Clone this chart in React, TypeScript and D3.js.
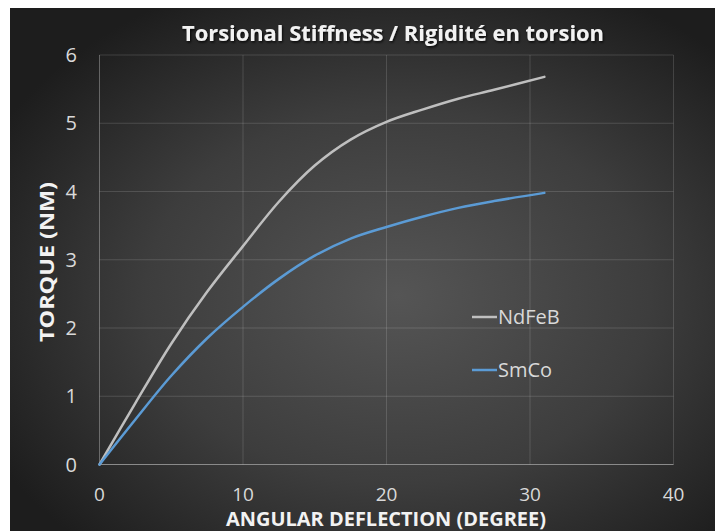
import React from "react"
import * as d3 from "d3"

const angles = [0, 2.5, 5, 7.5, 10, 12.5, 15, 17.5, 20, 22.5, 25, 27.5, 31]
const ndfebTorque = [0, 0.9, 1.77, 2.53, 3.2, 3.85, 4.38, 4.76, 5.02, 5.2, 5.36, 5.49, 5.68]
const smcoTorque = [0, 0.66, 1.3, 1.85, 2.31, 2.72, 3.06, 3.31, 3.48, 3.63, 3.76, 3.86, 3.98]

const xTicks = [0, 10, 20, 30, 40]
const yTicks = [0, 1, 2, 3, 4, 5, 6]

const series = [
  { name: "NdFeB", values: ndfebTorque, color: "#bfbfbf" },
  { name: "SmCo", values: smcoTorque, color: "#5b9bd5" }
]

const width = 715
const height = 531
const plot = { left: 99.5, right: 673.5, top: 55, bottom: 464.5 }

const font = "'Open Sans', 'DejaVu Sans', sans-serif"

export default function App() {
  const x = d3.scaleLinear().domain([0, 40]).range([plot.left, plot.right])
  const y = d3.scaleLinear().domain([0, 6]).range([plot.bottom, plot.top])

  const line = d3
    .line<number>()
    .x((_, i) => x(angles[i]))
    .y(d => y(d))
    .curve(d3.curveCatmullRom.alpha(0.5))

  return (
    <div style={{ position: "absolute", left: 0, top: 0 }}>
      <svg width={width} height={height} style={{ display: "block", background: "white" }}>
        <defs>
          <radialGradient id="bg" cx="55%" cy="55%" r="65%">
            <stop offset="0%" stopColor="#555555" />
            <stop offset="55%" stopColor="#3d3d3d" />
            <stop offset="100%" stopColor="#1d1d1d" />
          </radialGradient>
          <filter id="shadow" x="-10%" y="-30%" width="120%" height="160%">
            <feDropShadow dx="1" dy="1.5" stdDeviation="1" floodColor="#000" floodOpacity="0.8" />
          </filter>
        </defs>
        <rect x={10} y={8} width={width - 10} height={height - 8} fill="url(#bg)" />

        {/* grid */}
        {yTicks.map(t => (
          <line
            key={"gy" + t}
            x1={plot.left}
            x2={plot.right}
            y1={y(t)}
            y2={y(t)}
            stroke={t === 0 ? "#8a8a8a" : "rgba(255,255,255,0.14)"}
            strokeWidth={1}
          />
        ))}
        {xTicks.map(t => (
          <line
            key={"gx" + t}
            x1={x(t)}
            x2={x(t)}
            y1={plot.top}
            y2={plot.bottom}
            stroke={t === 0 ? "rgba(255,255,255,0.3)" : "rgba(255,255,255,0.14)"}
            strokeWidth={1}
          />
        ))}

        {/* tick labels */}
        {yTicks.map(t => (
          <text
            key={"ly" + t}
            x={77}
            y={y(t)}
            dy="0.36em"
            textAnchor="end"
            fontFamily={font}
            fontSize={20}
            fill="#d9d9d9"
          >
            {t}
          </text>
        ))}
        {xTicks.map(t => (
          <text
            key={"lx" + t}
            x={x(t)}
            y={501}
            textAnchor="middle"
            fontFamily={font}
            fontSize={19}
            fill="#d9d9d9"
          >
            {t}
          </text>
        ))}

        {/* series */}
        {series.map(s => (
          <path
            key={s.name}
            d={line(s.values) || ""}
            fill="none"
            stroke={s.color}
            strokeWidth={2.5}
            strokeLinecap="round"
          />
        ))}

        {/* legend */}
        {series.map((s, i) => (
          <g key={"lg" + s.name} transform={`translate(472, ${317 + i * 53})`}>
            <line x1={0} x2={25} y1={0} y2={0} stroke={s.color} strokeWidth={2.5} />
            <text x={26} y={0} dy="0.36em" fontFamily={font} fontSize={20} fill="#d9d9d9">
              {s.name}
            </text>
          </g>
        ))}

        {/* titles */}
        <text
          x={393}
          y={41}
          textAnchor="middle"
          fontFamily={font}
          fontWeight="bold"
          fontSize={21}
          fill="#f2f2f2"
          textLength={422}
          lengthAdjust="spacingAndGlyphs"
          filter="url(#shadow)"
        >
          Torsional Stiffness / Rigidité en torsion
        </text>
        <text
          x={386}
          y={526}
          textAnchor="middle"
          fontFamily={font}
          fontWeight="bold"
          fontSize={19}
          fill="#f2f2f2"
          textLength={320}
          lengthAdjust="spacingAndGlyphs"
        >
          ANGULAR DEFLECTION (DEGREE)
        </text>
        <text
          transform="translate(54, 262) rotate(-90)"
          textAnchor="middle"
          fontFamily={font}
          fontWeight="bold"
          fontSize={20}
          fill="#f2f2f2"
          textLength={160}
          lengthAdjust="spacingAndGlyphs"
        >
          TORQUE (NM)
        </text>
      </svg>
    </div>
  )
}
